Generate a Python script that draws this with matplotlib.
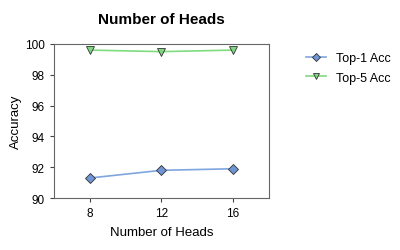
import matplotlib
matplotlib.use("Agg")
import matplotlib.pyplot as plt

heads = [8, 12, 16]
top1 = [91.3, 91.8, 91.9]
top5 = [99.6, 99.5, 99.6]

plt.rcParams['font.family'] = ['Liberation Sans', 'DejaVu Sans']

fig = plt.figure(figsize=(4, 2.51), dpi=100)
ax = fig.add_axes([0.135, 0.207, 0.5375, 0.614])

ax.plot(heads, top1, color='#7fa6de', linewidth=1.2, marker='D', markersize=5,
        markerfacecolor='#6f95d4', markeredgecolor='#333333', markeredgewidth=0.6,
        label='Top-1 Acc')
ax.plot(heads, top5, color='#7fdc7f', linewidth=1.2, marker='v', markersize=6,
        markerfacecolor='#7fd67f', markeredgecolor='#333333', markeredgewidth=0.6,
        label='Top-5 Acc')

ax.set_xlim(6, 18)
ax.set_ylim(90, 100)
ax.set_xticks(heads)
ax.set_yticks([90, 92, 94, 96, 98, 100])
ax.tick_params(labelsize=8.5, direction='out', length=3, color='#444444',
               top=False, right=False)
for s in ax.spines.values():
    s.set_color('#666666')
    s.set_linewidth(0.8)

ax.set_xlabel('Number of Heads', fontsize=9.5, labelpad=5)
ax.set_ylabel('Accuracy', fontsize=9.5, labelpad=2)
ax.set_title('Number of Heads', fontsize=11, fontweight='bold', pad=15)

ax.legend(loc='upper left', bbox_to_anchor=(1.12, 1.02), frameon=False, fontsize=9,
          handlelength=1.6, labelspacing=0.6, markerscale=0.8)

fig.savefig('out.png', dpi=100)
